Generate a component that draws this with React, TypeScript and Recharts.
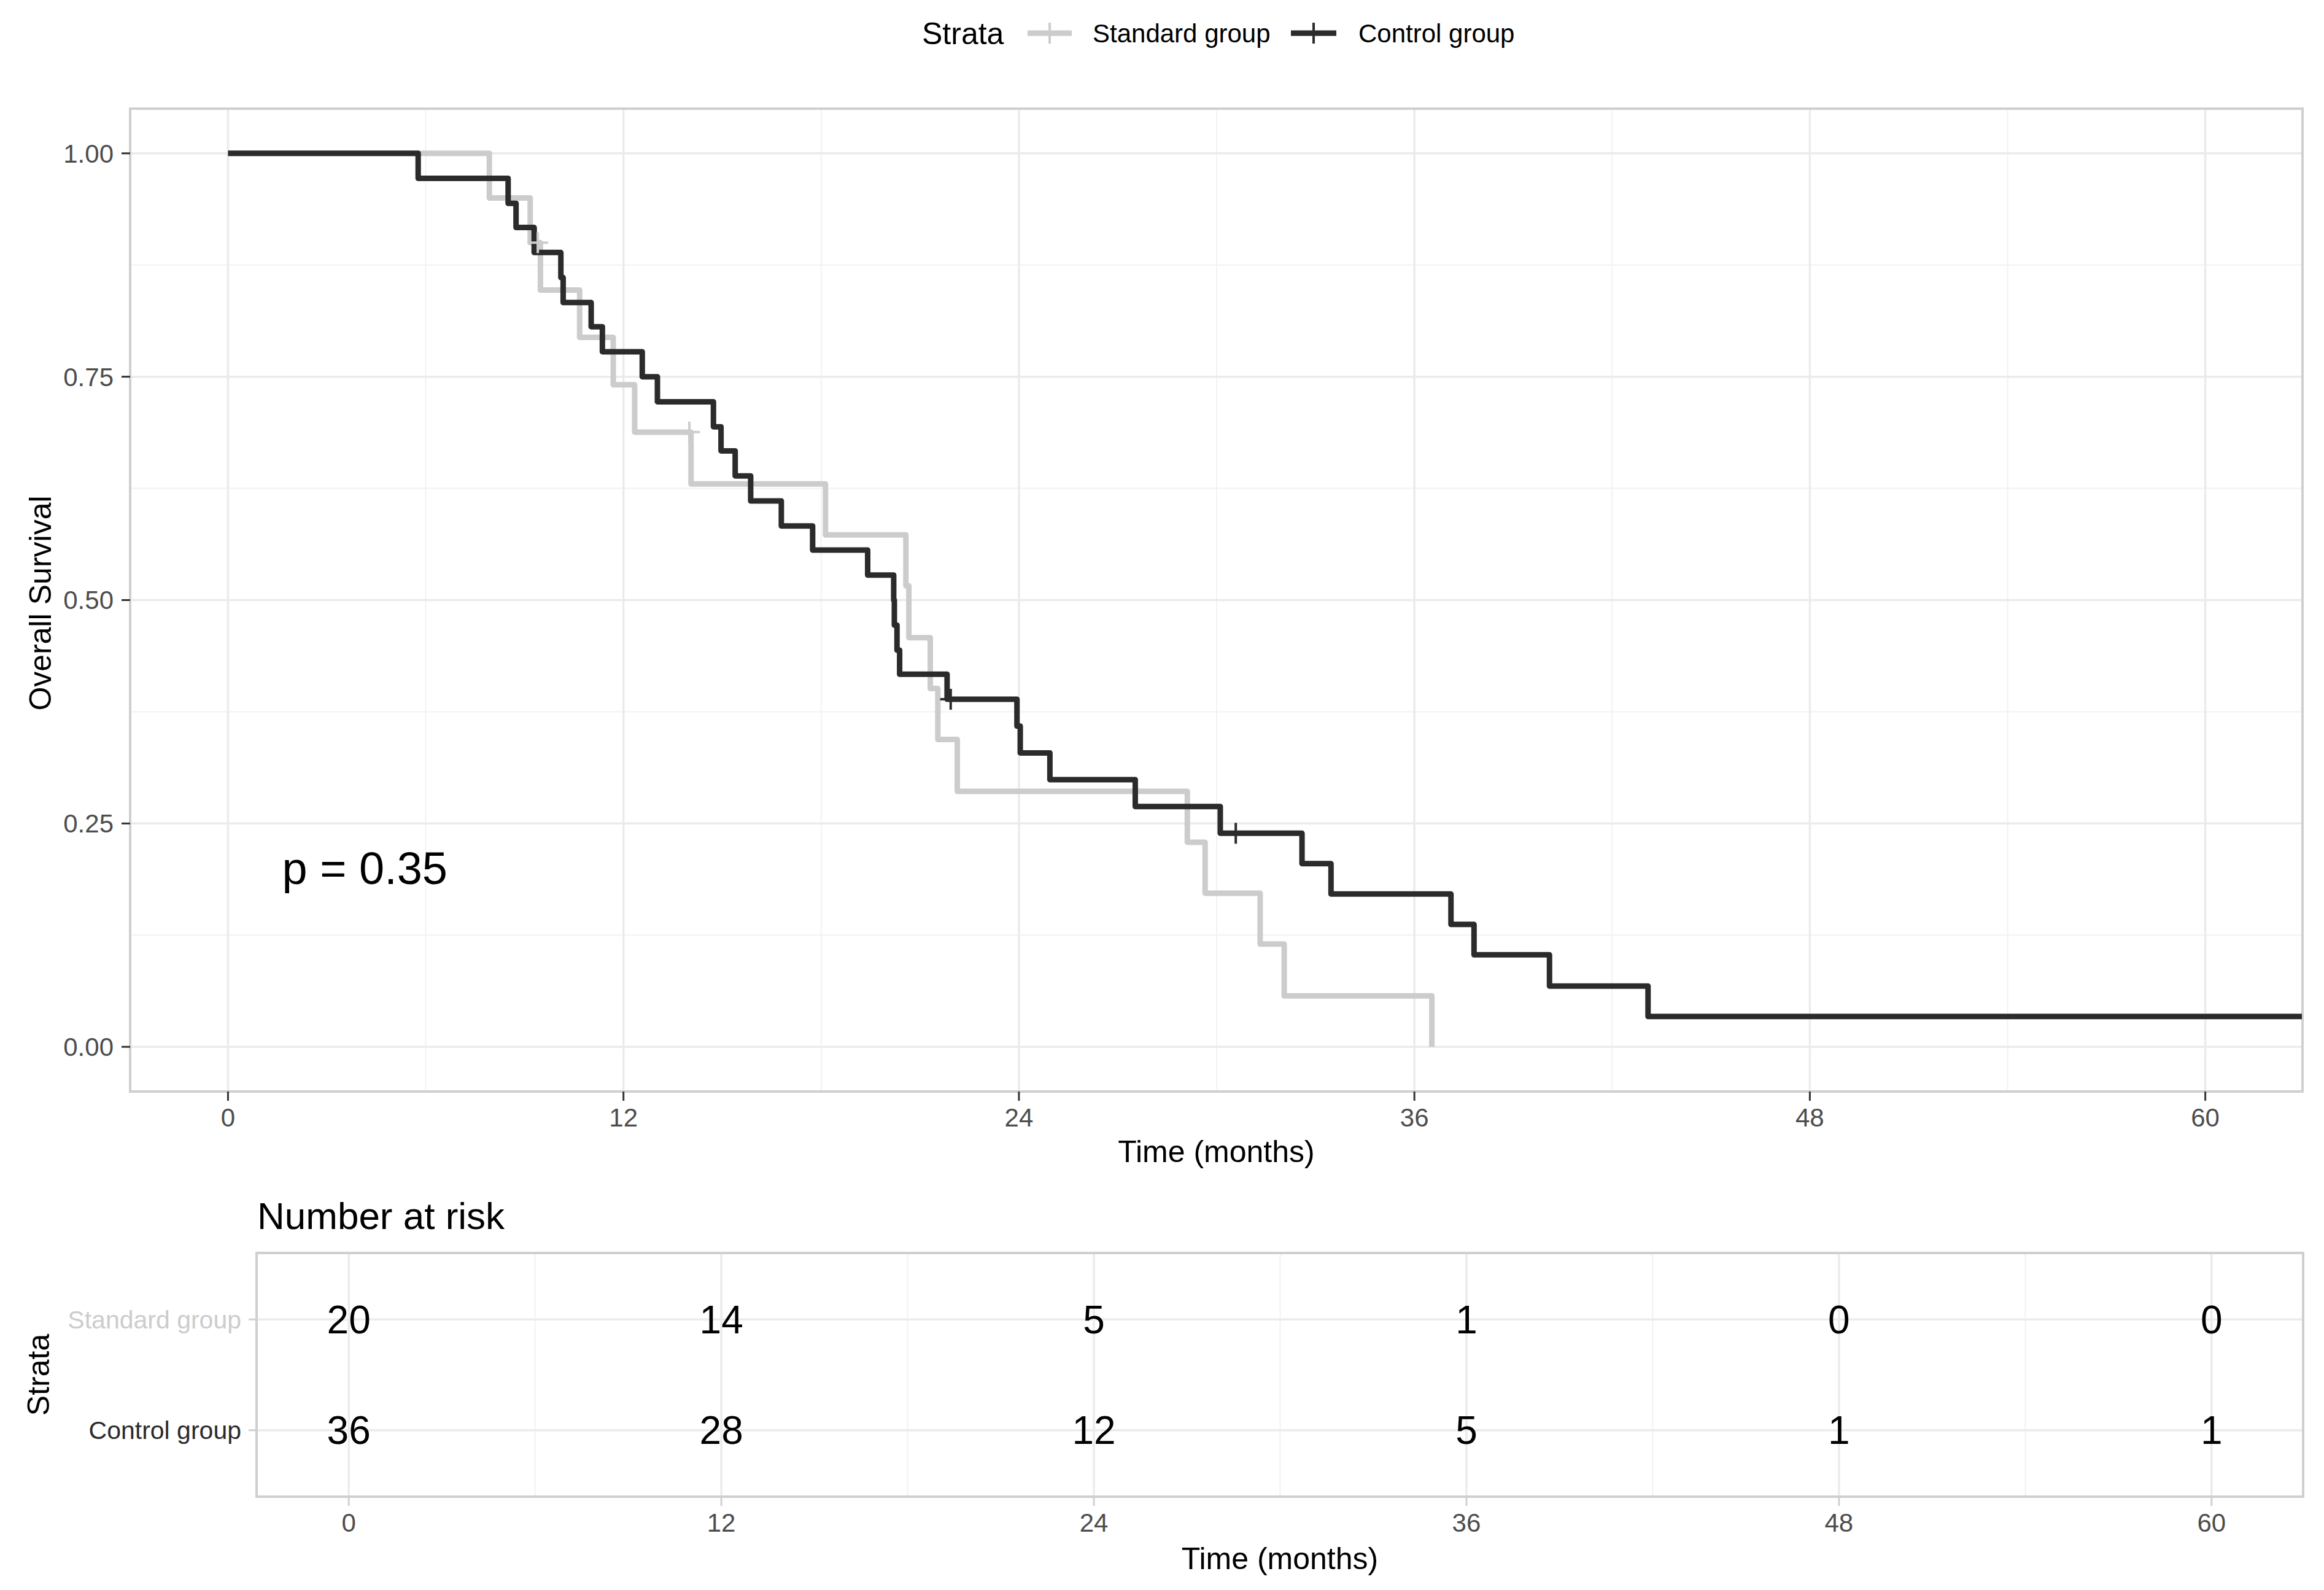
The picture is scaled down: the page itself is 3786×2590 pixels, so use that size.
import React from 'react';
import {
  ComposedChart,
  Line,
  Scatter,
  XAxis,
  YAxis,
  CartesianGrid,
  ReferenceArea,
  ReferenceDot,
} from 'recharts';

const FONT = '"Liberation Sans", Arial, Helvetica, sans-serif';

// ---- data ----
const standardTimes = [0, 7.93, 9.17, 9.48, 10.67, 11.69, 12.34, 14.05, 18.13, 20.57, 20.66, 21.31, 21.54, 22.13, 29.11, 29.65, 31.32, 32.05, 36.53];
const standardSurv = [1, 0.95, 0.9, 0.847, 0.794, 0.741, 0.688, 0.63, 0.573, 0.516, 0.458, 0.401, 0.344, 0.286, 0.229, 0.172, 0.115, 0.057, 0];

const controlTimes = [0, 5.77, 8.5, 8.74, 9.29, 10.1, 10.17, 11.02, 11.36, 12.57, 13.03, 14.73, 14.96, 15.39, 15.86, 16.79, 17.74, 19.41, 20.2, 20.22, 20.3, 20.38, 21.82, 23.94, 24.04, 24.94, 27.53, 30.11, 32.59, 33.47, 37.11, 37.81, 40.1, 43.09, 62.93];
const controlSurv = [1, 0.972, 0.944, 0.917, 0.889, 0.861, 0.833, 0.806, 0.778, 0.75, 0.722, 0.694, 0.667, 0.639, 0.611, 0.583, 0.556, 0.528, 0.5, 0.472, 0.444, 0.417, 0.389, 0.359, 0.329, 0.299, 0.269, 0.239, 0.205, 0.171, 0.137, 0.103, 0.068, 0.034, 0.034];

const standardCensorTimes = [9.4, 14.0];
const standardCensorSurv = [0.9, 0.688];
const controlCensorTimes = [21.93, 30.58];
const controlCensorSurv = [0.389, 0.239];

const riskTimes = [0, 12, 24, 36, 48, 60];
const standardRisk = [20, 14, 5, 1, 0, 0];
const controlRisk = [36, 28, 12, 5, 1, 1];

const groupNames = ['Standard group', 'Control group'];
const pValueText = 'p = 0.35';
const pValueX = 1.64;
const pValueY = 0.2;

const xTicks = [0, 12, 24, 36, 48, 60];
const xMinor = [6, 18, 30, 42, 54];
const yTicks = [0, 0.25, 0.5, 0.75, 1];
const yMinor = [0.125, 0.375, 0.625, 0.875];
const xDomain: [number, number] = [-2.97, 62.95];
const yDomain: [number, number] = [-0.05, 1.05];
const riskRowDomain: [number, number] = [0.4, 2.6];

// ---- styles ----
const STD_COLOR = '#CCCCCC';
const CTL_COLOR = '#2B2B2B';
const GRID = '#EBEBEB';
const GRID_MINOR = '#F2F2F2';
const BORDER = '#CFCFCF';

const zip = (ts: number[], ss: number[]) => ts.map((t, i) => ({ t, s: ss[i] }));
const standardPts = zip(standardTimes, standardSurv);
const controlPts = zip(controlTimes, controlSurv);
const standardCens = zip(standardCensorTimes, standardCensorSurv);
const controlCens = zip(controlCensorTimes, controlCensorSurv);
const standardRiskPts = riskTimes.map((t, i) => ({ t, row: 2, n: standardRisk[i] }));
const controlRiskPts = riskTimes.map((t, i) => ({ t, row: 1, n: controlRisk[i] }));

const makePlus = (color: string) => (props: any) => {
  const { cx, cy } = props;
  if (cx == null || cy == null) return <g />;
  return (
    <g>
      <line x1={cx - 17} x2={cx + 17} y1={cy} y2={cy} stroke={color} strokeWidth={4} />
      <line x1={cx} x2={cx} y1={cy - 17} y2={cy + 17} stroke={color} strokeWidth={4} />
    </g>
  );
};

const riskText = (props: any) => {
  const { cx, cy } = props;
  const n = props.payload ? props.payload.n : props.n;
  return (
    <text x={cx} y={cy} dy="0.355em" textAnchor="middle" fontSize={64} fill="#000" fontFamily={FONT}>
      {n}
    </text>
  );
};

const riskYTick = (props: any) => {
  const { x, y, payload } = props;
  const isStd = payload.value === 2;
  return (
    <text x={x} y={y} dy="0.355em" textAnchor="end" fontSize={41} fill={isStd ? STD_COLOR : CTL_COLOR} fontFamily={FONT}>
      {isStd ? groupNames[0] : groupNames[1]}
    </text>
  );
};

export default function App() {
  const tickStyle = { fill: '#4D4D4D', fontSize: 42, fontFamily: FONT };
  return (
    <div style={{ position: 'absolute', left: 0, top: 0, width: 3786, height: 2590, background: '#fff', fontFamily: FONT, overflow: 'hidden' }}>
      <div style={{ position: 'absolute', left: 0, top: 0 }}>
        <ComposedChart width={3786} height={1920} margin={{ top: 177, right: 35, bottom: 22, left: 12 }}>
          <CartesianGrid verticalValues={xMinor} horizontalValues={yMinor} stroke={GRID_MINOR} strokeWidth={2} />
          <CartesianGrid stroke={GRID} strokeWidth={3.5} />
          <XAxis
            type="number"
            dataKey="t"
            domain={xDomain}
            allowDataOverflow
            ticks={xTicks}
            interval={0}
            height={120}
            tickSize={15}
            tickMargin={12}
            axisLine={false}
            tickLine={{ stroke: '#333333', strokeWidth: 3 }}
            tick={tickStyle}
            label={(p: any) => (
              <text x={p.viewBox.x + p.viewBox.width / 2} y={p.viewBox.y + 115} textAnchor="middle" fontSize={50} fill="#000" fontFamily={FONT}>
                Time (months)
              </text>
            )}
          />
          <YAxis
            type="number"
            domain={yDomain}
            allowDataOverflow
            ticks={yTicks}
            interval={0}
            width={200}
            tickSize={14}
            tickMargin={13}
            axisLine={false}
            tickLine={{ stroke: '#333333', strokeWidth: 3 }}
            tick={tickStyle}
            tickFormatter={(v: number) => v.toFixed(2)}
            label={(p: any) => {
              const x = p.viewBox.x + 71;
              const y = p.viewBox.y + p.viewBox.height / 2 + 5;
              return (
                <text x={x} y={y} transform={`rotate(-90, ${x}, ${y})`} textAnchor="middle" fontSize={50} fill="#000" fontFamily={FONT}>
                  Overall Survival
                </text>
              );
            }}
          />
          <Line data={standardPts} type="stepAfter" dataKey="s" stroke={STD_COLOR} strokeWidth={9} dot={false} activeDot={false} isAnimationActive={false} strokeLinejoin="round" />
          <Scatter data={standardCens} dataKey="s" shape={makePlus(STD_COLOR)} isAnimationActive={false} />
          <Line data={controlPts} type="stepAfter" dataKey="s" stroke={CTL_COLOR} strokeWidth={9} dot={false} activeDot={false} isAnimationActive={false} strokeLinejoin="round" />
          <Scatter data={controlCens} dataKey="s" shape={makePlus(CTL_COLOR)} isAnimationActive={false} />
          <ReferenceArea x1={xDomain[0]} x2={xDomain[1]} y1={yDomain[0]} y2={yDomain[1]} fill="none" stroke={BORDER} strokeWidth={4} />
          <ReferenceDot
            x={pValueX}
            y={pValueY}
            r={1}
            fill="none"
            stroke="none"
            label={(p: any) => (
              <text x={p.viewBox.x + (p.viewBox.width || 0) / 2} y={p.viewBox.y + (p.viewBox.height || 0) / 2} dy="0.355em" textAnchor="start" fontSize={74} fill="#000" fontFamily={FONT}>
                {pValueText}
              </text>
            )}
          />
        </ComposedChart>
      </div>

      <div style={{ position: 'absolute', left: 0, top: 1920 }}>
        <ComposedChart width={3786} height={670} margin={{ top: 121, right: 34, bottom: 22, left: 18 }}>
          <CartesianGrid verticalValues={xMinor} horizontal={false} stroke={GRID_MINOR} strokeWidth={2} />
          <CartesianGrid stroke={GRID} strokeWidth={3.5} />
          <XAxis
            type="number"
            dataKey="t"
            domain={xDomain}
            allowDataOverflow
            ticks={riskTimes}
            interval={0}
            height={130}
            tickSize={15}
            tickMargin={12}
            axisLine={false}
            tickLine={{ stroke: '#D0D0D0', strokeWidth: 3 }}
            tick={tickStyle}
            label={(p: any) => (
              <text x={p.viewBox.x + p.viewBox.width / 2} y={p.viewBox.y + 118} textAnchor="middle" fontSize={50} fill="#000" fontFamily={FONT}>
                Time (months)
              </text>
            )}
          />
          <YAxis
            type="number"
            domain={riskRowDomain}
            allowDataOverflow
            ticks={[1, 2]}
            interval={0}
            width={400}
            tickSize={13}
            tickMargin={12}
            axisLine={false}
            tickLine={{ stroke: '#D0D0D0', strokeWidth: 3 }}
            tick={riskYTick}
            label={(p: any) => {
              const x = p.viewBox.x + 62;
              const y = p.viewBox.y + p.viewBox.height / 2;
              return (
                <text x={x} y={y} transform={`rotate(-90, ${x}, ${y})`} textAnchor="middle" fontSize={50} fill="#000" fontFamily={FONT}>
                  Strata
                </text>
              );
            }}
          />
          <Scatter data={standardRiskPts} dataKey="row" shape={riskText} isAnimationActive={false} />
          <Scatter data={controlRiskPts} dataKey="row" shape={riskText} isAnimationActive={false} />
          <ReferenceArea x1={xDomain[0]} x2={xDomain[1]} y1={riskRowDomain[0]} y2={riskRowDomain[1]} fill="none" stroke={BORDER} strokeWidth={4} />
        </ComposedChart>
      </div>

      <svg width={3786} height={2590} style={{ position: 'absolute', left: 0, top: 0, pointerEvents: 'none' }}>
        <text x={1502} y={72} fontSize={50} fill="#000" fontFamily={FONT}>Strata</text>
        <line x1={1674} x2={1746} y1={54} y2={54} stroke={STD_COLOR} strokeWidth={9} />
        <line x1={1710} x2={1710} y1={37} y2={71} stroke={STD_COLOR} strokeWidth={4} />
        <text x={1780} y={69} fontSize={42} fill="#000" fontFamily={FONT}>{groupNames[0]}</text>
        <line x1={2103} x2={2177} y1={54} y2={54} stroke={CTL_COLOR} strokeWidth={9} />
        <line x1={2140} x2={2140} y1={37} y2={71} stroke={CTL_COLOR} strokeWidth={4} />
        <text x={2213} y={69} fontSize={42} fill="#000" fontFamily={FONT}>{groupNames[1]}</text>
        <text x={419} y={2002} fontSize={62} fill="#000" fontFamily={FONT}>Number at risk</text>
      </svg>
    </div>
  );
}
